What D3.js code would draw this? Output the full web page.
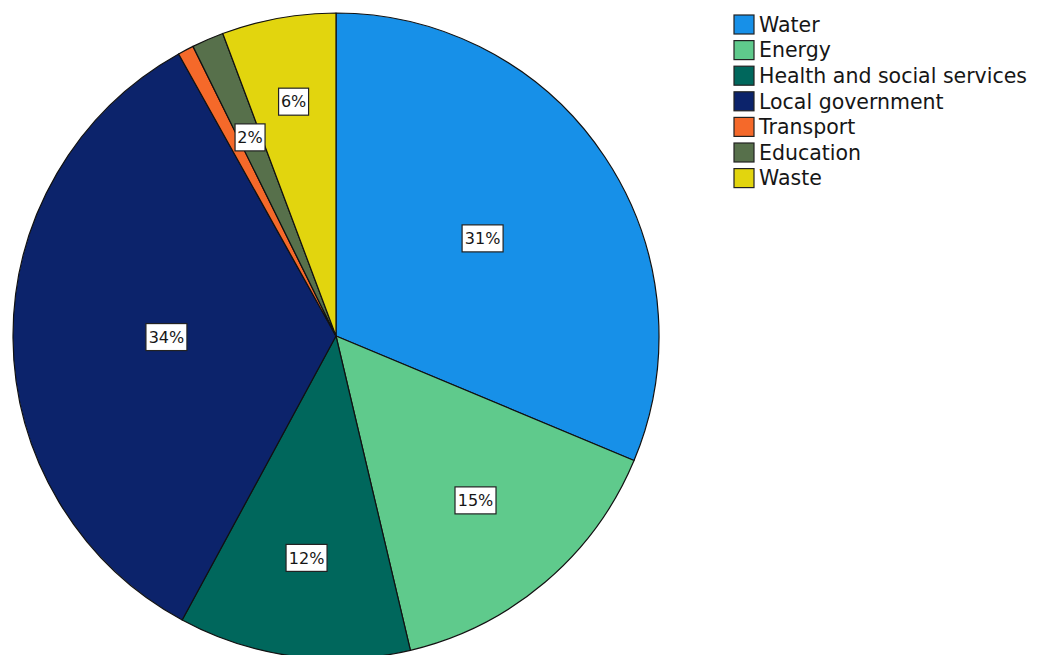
<!DOCTYPE html>
<html>
<head>
  <meta charset="utf-8">
  <title>Pie chart</title>
  <script src="https://d3js.org/d3.v7.min.js"></script>
  <style>
    body { margin: 0; background: #fff; }
    text { font-family: "DejaVu Sans", sans-serif; fill: #161616; }
  </style>
</head>
<body>
  <script>
	// data (percent of total, clockwise from 12 o'clock)
	var categories = ['Water', 'Energy', 'Health and social services', 'Local government', 'Transport', 'Education', 'Waste'];
	var shares = [31.3, 15.0, 11.6, 34.0, 0.8, 1.6, 5.7];
	var labels = ['31%', '15%', '12%', '34%', '', '2%', '6%'];
	var colours = ['#1790e8', '#5fca8c', '#00675c', '#0c236b', '#f5692a', '#57704b', '#e2d50e'];

	var width = 1045, height = 655;
	var cx = 336, cy = 336, radius = 323;

	var svg = d3.select('body')
	            .append('svg')
	              .attr('width', width)
	              .attr('height', height);

	var total = d3.sum(shares);
	var pie = d3.pie().sort(null).value(function(d){ return d; });
	var arc = d3.arc().innerRadius(0).outerRadius(radius);
	var slices = pie(shares);

	var g = svg.append('g').attr('transform', 'translate(' + cx + ',' + cy + ')');

	g.selectAll('path')
	  .data(slices)
	  .enter()
	  .append('path')
	    .attr('d', arc)
	    .attr('fill', function(d, i){ return colours[i]; })
	    .attr('stroke', '#111')
	    .attr('stroke-width', 1.2)
	    .attr('stroke-linejoin', 'round');

	// big slices get their label nearer the middle, tiny ones sit at 2/3 radius
	function labelRadius(d){
	  var f = d.value / total;
	  return f < 0.03 ? radius * 0.67 : radius * (0.78 - 0.75 * f);
	}

	var lab = g.selectAll('g.lab')
	  .data(slices.filter(function(d, i){ return labels[i] !== ''; }))
	  .enter()
	  .append('g')
	    .attr('class', 'lab')
	    .attr('transform', function(d){
	      var mid = (d.startAngle + d.endAngle) / 2;
	      var r = labelRadius(d);
	      return 'translate(' + (r * Math.sin(mid)) + ',' + (-r * Math.cos(mid)) + ')';
	    });

	lab.append('rect')
	  .attr('x', function(d){ return labels[d.index].length > 2 ? -20.5 : -15; })
	  .attr('y', -13.5)
	  .attr('width', function(d){ return labels[d.index].length > 2 ? 41 : 30; })
	  .attr('height', 27)
	  .attr('fill', '#fff')
	  .attr('stroke', '#222')
	  .attr('stroke-width', 1.2);

	lab.append('text')
	  .attr('text-anchor', 'middle')
	  .attr('dy', '0.36em')
	  .style('font-size', '16px')
	  .text(function(d){ return labels[d.index]; });

	// legend
	var legend = svg.append('g').attr('transform', 'translate(734,15)');
	var rows = legend.selectAll('g')
	  .data(categories)
	  .enter()
	  .append('g')
	    .attr('transform', function(d, i){ return 'translate(0,' + (i * 25.6) + ')'; });

	rows.append('rect')
	  .attr('width', 20)
	  .attr('height', 19)
	  .attr('fill', function(d, i){ return colours[i]; })
	  .attr('stroke', '#222')
	  .attr('stroke-width', 1.2);

	rows.append('text')
	  .attr('x', 25)
	  .attr('y', 9.5)
	  .attr('dy', '0.36em')
	  .style('font-size', '20.5px')
	  .text(function(d){ return d; });
  </script>
</body>
</html>
